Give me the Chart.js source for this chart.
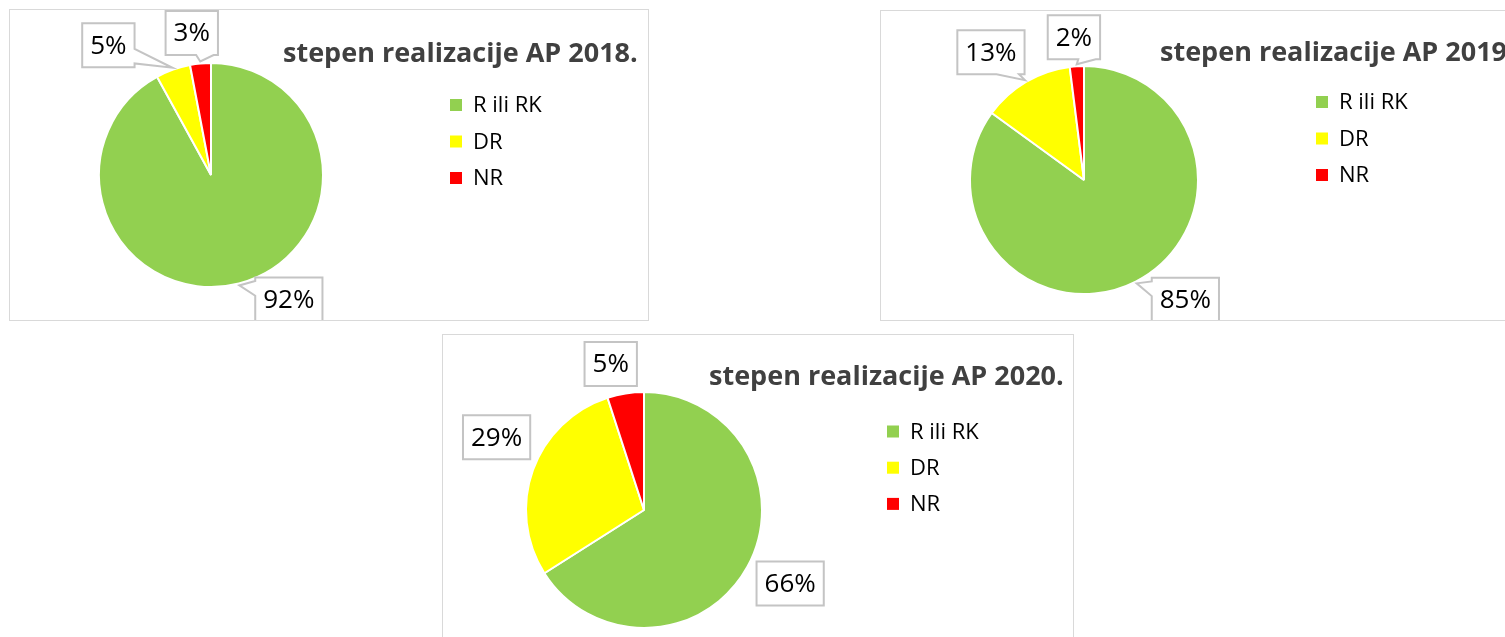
<!DOCTYPE html>
<html>
<head>
<meta charset="utf-8">
<script src="https://cdn.jsdelivr.net/npm/chart.js@4"></script>
<style>
body{margin:0;background:#fff;overflow:hidden;width:1505px;height:637px;position:relative}
.box{position:absolute;border:1px solid #d9d9d9;background:#fff}
canvas{display:block}
</style>
</head>
<body>

<div class="box" style="left:9px;top:9px"><canvas id="c2018" width="638" height="310"></canvas></div>
<div class="box" style="left:880px;top:10px"><canvas id="c2019" width="640" height="309"></canvas></div>
<div class="box" style="left:442px;top:334px"><canvas id="c2020" width="630" height="310"></canvas></div>

<script>

const categories=["R ili RK","DR","NR"]
const colors=["#92d050","#ffff00","#ff0000"]

const values2018=[92,5,3]
const values2019=[85,13,2]
const values2020=[66,29,5]

const titles=["stepen realizacije AP 2018.","stepen realizacije AP 2019.","stepen realizacije AP 2020."]

// where each pie / title / legend / label box goes inside its canvas
const layouts=[
{cx:201,cy:165,r:112,titleX:273,titleY:52,legendX:440,legendY:95,legendGap:36.5,callout:true,
 offsets:[[49.5,14],[-64,-22.6],[-8.5,-28.5]]},
{cx:203,cy:169,r:114,titleX:279,titleY:50,legendX:435,legendY:91,legendGap:36.5,callout:true,
 offsets:[[48.7,16.4],[-34,-28],[-2.8,-27]]},
{cx:201,cy:175,r:118,titleX:266,titleY:50,legendX:444,legendY:96.5,legendGap:36.2,callout:false,
 offsets:[[41,15.6],[-34.5,-32],[-14.5,-27.4]]}
]

function labelBox(ctx,L,T,R,B,tip,callout){

let w=R-L, h=B-T
let cx=(L+R)/2, cy=(T+B)/2
let nx=(tip[0]-cx)/(w/2), ny=(tip[1]-cy)/(h/2)
let inside=Math.abs(nx)<=1 && Math.abs(ny)<=1

ctx.beginPath()
ctx.moveTo(L,T)

if(callout && !inside && Math.abs(ny)>=Math.abs(nx) && ny<0){
let a=nx>0?L+w*7/12:L+w/12, b=nx>0?L+w*11/12:L+w*5/12
ctx.lineTo(a,T); ctx.lineTo(tip[0],tip[1]); ctx.lineTo(b,T)
}
ctx.lineTo(R,T)

if(callout && !inside && Math.abs(nx)>Math.abs(ny) && nx>0){
let a=ny>0?T+h*7/12:T+h/12, b=ny>0?T+h*11/12:T+h*5/12
ctx.lineTo(R,a); ctx.lineTo(tip[0],tip[1]); ctx.lineTo(R,b)
}
ctx.lineTo(R,B)

if(callout && !inside && Math.abs(ny)>=Math.abs(nx) && ny>0){
let a=nx>0?L+w*7/12:L+w/12, b=nx>0?L+w*11/12:L+w*5/12
ctx.lineTo(b,B); ctx.lineTo(tip[0],tip[1]); ctx.lineTo(a,B)
}
ctx.lineTo(L,B)

if(callout && !inside && Math.abs(nx)>Math.abs(ny) && nx<0){
let a=ny>0?T+h*7/12:T+h/12, b=ny>0?T+h*11/12:T+h*5/12
ctx.lineTo(L,b); ctx.lineTo(tip[0],tip[1]); ctx.lineTo(L,a)
}
ctx.closePath()

ctx.fillStyle="#fff"
ctx.fill()
ctx.lineWidth=2
ctx.strokeStyle="#c4c4c4"
ctx.stroke()

}

const boxLabels={

id:"boxLabels",

afterDraw(chart){

let o=chart.options.plugins.boxLabels
let ctx=chart.ctx
let ds=chart.data.datasets[0]

ctx.save()

ctx.font="bold 27px 'Open Sans'"
ctx.fillStyle="#404040"
ctx.textAlign="left"
ctx.textBaseline="alphabetic"
ctx.fillText(o.title,o.titleX,o.titleY)

ctx.font="22px 'Open Sans'"
ctx.textBaseline="middle"
chart.data.labels.forEach((lab,i)=>{
let y=o.legendY+i*o.legendGap
ctx.fillStyle=ds.backgroundColor[i]
ctx.fillRect(o.legendX,y-6,12,12)
ctx.fillStyle="#000"
ctx.fillText(lab,o.legendX+23,y+1)
})

let meta=chart.getDatasetMeta(0)
let total=ds.data.reduce((s,v)=>s+v,0)

ctx.font="26px 'Open Sans'"
meta.data.forEach((arc,i)=>{
let p=arc.getProps(["x","y","startAngle","endAngle","outerRadius"],true)
let mid=(p.startAngle+p.endAngle)/2
let tip=[p.x+Math.cos(mid)*(p.outerRadius+2),p.y+Math.sin(mid)*(p.outerRadius+2)]
let txt=Math.round(ds.data[i]/total*100)+"%"
let w=ctx.measureText(txt).width+16, h=44
let cx=tip[0]+o.offsets[i][0], cy=tip[1]+o.offsets[i][1]
labelBox(ctx,cx-w/2,cy-h/2,cx+w/2,cy+h/2,tip,o.callout)
ctx.fillStyle="#000"
ctx.textAlign="center"
ctx.textBaseline="middle"
ctx.fillText(txt,cx,cy+1)
})

ctx.restore()

}

}

function drawPie(id,values,title,lay){

let cv=document.getElementById(id)
let h=lay.r+2

new Chart(cv,{

type:"pie",

data:{

labels:categories,

datasets:[{

data:values,

backgroundColor:colors,

borderColor:"#fff",

borderWidth:2,

radius:lay.r

}]

},

options:{

responsive:false,

animation:false,

layout:{padding:{left:lay.cx-h,right:cv.width-lay.cx-h,top:lay.cy-h,bottom:cv.height-lay.cy-h}},

plugins:{

legend:{display:false},

tooltip:{enabled:false},

boxLabels:Object.assign({title:title},lay)

}

},

plugins:[boxLabels]

})

}

drawPie("c2018",values2018,titles[0],layouts[0])
drawPie("c2019",values2019,titles[1],layouts[1])
drawPie("c2020",values2020,titles[2],layouts[2])

</script>
</body>
</html>
